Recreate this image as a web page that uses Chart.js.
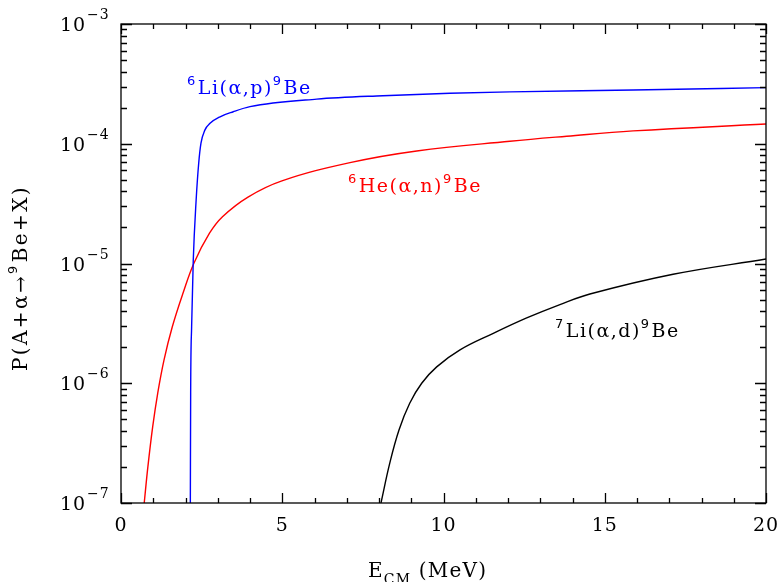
<!DOCTYPE html>
<html>
<head>
    <meta charset="utf-8">
    <title>P(A+α→9Be+X)</title>
    <script src="https://cdn.jsdelivr.net/npm/chart.js@4.4.0/dist/chart.umd.min.js"></script>
    <style>
        html, body { margin: 0; padding: 0; background: #fff; }
        #wrap { width: 780px; height: 582px; }
    </style>
</head>
<body>
    <div id="wrap"><canvas id="prob-chart" width="780" height="582"></canvas></div>
    <script>
        // 6Li(a,p)9Be
        var liPEnergy = [2.15, 2.16, 2.19, 2.24, 2.33, 2.41, 2.48, 2.60, 2.76, 3.07, 3.48, 4.0, 6.07, 8.12, 10.2, 12.06, 15.88, 20];
        var liPProb = [1e-7, 8.3e-7, 2.96e-6, 1.05e-5, 3.39e-5, 6.9e-5, 1.01e-4, 1.30e-4, 1.48e-4, 1.68e-4, 1.85e-4, 2.04e-4, 2.36e-4, 2.52e-4, 2.64e-4, 2.71e-4, 2.81e-4, 2.94e-4];

        // 6He(a,n)9Be
        var heNEnergy = [0.72, 0.834, 0.983, 1.138, 1.333, 1.591, 1.922, 2.264, 2.744, 3.147, 3.938, 4.99, 7.10, 9.17, 12.06, 13.82, 15.88, 20];
        var heNProb = [1e-7, 2.01e-7, 4.34e-7, 8.24e-7, 1.56e-6, 2.96e-6, 5.64e-6, 1.01e-5, 1.79e-5, 2.46e-5, 3.59e-5, 4.9e-5, 6.95e-5, 8.7e-5, 1.05e-4, 1.156e-4, 1.28e-4, 1.46e-4];

        // 7Li(a,d)9Be
        var liDEnergy = [8.062, 8.332, 8.620, 8.952, 9.324, 9.789, 10.512, 11.544, 12.58, 13.61, 14.54, 17.12, 20];
        var liDProb = [1e-7, 2.14e-7, 4.07e-7, 6.81e-7, 1.0e-6, 1.37e-6, 1.90e-6, 2.61e-6, 3.51e-6, 4.54e-6, 5.56e-6, 8.13e-6, 1.09e-5];

        // axis labels
        var xTickLabels = [0, 5, 10, 15, 20];
        var yExponents = [-7, -6, -5, -4, -3];

        var SERIF = '"DejaVu Serif", "Liberation Serif", serif';
        var SANS = '"DejaVu Sans", sans-serif';

        function toPoints(xs, ys) {
            var pts = [];
            for (var i = 0; i < xs.length; i++) pts.push({ x: xs[i], y: ys[i] });
            return pts;
        }

        function partFont(p, size) {
            if (p.sup) return Math.round(size * 0.66) + 'px ' + SANS;
            if (p.sub) return Math.round(size * 0.68) + 'px ' + SERIF;
            return size + 'px ' + SERIF;
        }

        // draws a run of pieces, some raised as superscripts or lowered as subscripts
        function drawRich(ctx, x, y, parts, color, size, spacing) {
            ctx.fillStyle = color;
            ctx.textBaseline = 'alphabetic';
            ctx.textAlign = 'left';
            ctx.letterSpacing = (spacing || 0) + 'px';
            var cx = x;
            parts.forEach(function (p) {
                var dy = p.sup ? -size * 0.5 : (p.sub ? size * 0.35 : 0);
                ctx.font = partFont(p, size);
                ctx.fillText(p.t, cx, y + dy);
                cx += ctx.measureText(p.t).width + (p.sup ? 1 : 0);
            });
            ctx.letterSpacing = '0px';
            return cx - x;
        }

        function richWidth(ctx, parts, size, spacing) {
            var w = 0;
            ctx.letterSpacing = (spacing || 0) + 'px';
            parts.forEach(function (p) {
                ctx.font = partFont(p, size);
                w += ctx.measureText(p.t).width + (p.sup ? 1 : 0);
            });
            ctx.letterSpacing = '0px';
            return w;
        }

        var framePlugin = {
            id: 'frame',
            afterDraw: function (chart) {
                var ctx = chart.ctx;
                var a = chart.chartArea;
                var xs = chart.scales.x;
                var ys = chart.scales.y;
                ctx.save();
                ctx.strokeStyle = '#000';
                ctx.lineWidth = 1.3;
                ctx.strokeRect(a.left, a.top, a.right - a.left, a.bottom - a.top);

                // x ticks, inward on bottom and top
                ctx.beginPath();
                for (var v = 0; v <= 20; v++) {
                    var px = Math.round(xs.getPixelForValue(v)) + 0.5;
                    var len = (v % 5 === 0) ? 10 : 5;
                    ctx.moveTo(px, a.bottom); ctx.lineTo(px, a.bottom - len);
                    ctx.moveTo(px, a.top); ctx.lineTo(px, a.top + len);
                }
                // y ticks, decades long and 2..9 short, on left and right
                for (var e = -7; e <= -3; e++) {
                    for (var m = 1; m <= 9; m++) {
                        if (e === -3 && m > 1) break;
                        var py = Math.round(ys.getPixelForValue(m * Math.pow(10, e))) + 0.5;
                        var l = (m === 1) ? 11 : 6;
                        ctx.moveTo(a.left, py); ctx.lineTo(a.left + l, py);
                        ctx.moveTo(a.right, py); ctx.lineTo(a.right - l, py);
                    }
                }
                ctx.stroke();

                // x tick labels
                ctx.fillStyle = '#000';
                ctx.font = '19px ' + SERIF;
                ctx.textAlign = 'center';
                ctx.textBaseline = 'alphabetic';
                ctx.letterSpacing = '1px';
                xTickLabels.forEach(function (t) {
                    ctx.fillText(String(t), xs.getPixelForValue(t), 531);
                });

                // y tick labels: 10 with a raised exponent
                yExponents.forEach(function (e) {
                    var py = ys.getPixelForValue(Math.pow(10, e));
                    ctx.font = '19px ' + SERIF;
                    ctx.textAlign = 'left';
                    ctx.fillText('10', 60, py + 7);
                    ctx.font = '14px ' + SERIF;
                    ctx.fillText('\u2212' + Math.abs(e), 87, py - 5);
                });
                ctx.letterSpacing = '0px';

                // curve labels
                var lbl = 19;
                drawRich(ctx, 187, 94, [{ t: '6', sup: true }, { t: 'Li(\u03b1,p)' }, { t: '9', sup: true }, { t: 'Be' }], '#0000ff', lbl, 1.5);
                drawRich(ctx, 348, 192, [{ t: '6', sup: true }, { t: 'He(\u03b1,n)' }, { t: '9', sup: true }, { t: 'Be' }], '#ff0000', lbl, 1.5);
                drawRich(ctx, 555, 337, [{ t: '7', sup: true }, { t: 'Li(\u03b1,d)' }, { t: '9', sup: true }, { t: 'Be' }], '#000000', lbl, 1.5);

                // x axis title
                var xt = [{ t: 'E' }, { t: 'CM', sub: true }, { t: ' (MeV)' }];
                drawRich(ctx, 368, 577, xt, '#000', 20, 1.2);

                // y axis title, rotated
                var yt = [{ t: 'P(A+\u03b1\u2192' }, { t: '9', sup: true }, { t: 'Be+X)' }];
                var w = richWidth(ctx, yt, 20, 2.4);
                ctx.save();
                ctx.translate(27, 278);
                ctx.rotate(-Math.PI / 2);
                drawRich(ctx, -w / 2, 0, yt, '#000', 20, 2.4);
                ctx.restore();

                ctx.restore();
            }
        };

        var probChart = new Chart(document.getElementById('prob-chart'), {
            type: 'line',
            data: {
                datasets: [
                    { label: '6Li(a,p)9Be', data: toPoints(liPEnergy, liPProb), borderColor: '#0000ff', cubicInterpolationMode: 'monotone' },
                    { label: '6He(a,n)9Be', data: toPoints(heNEnergy, heNProb), borderColor: '#ff0000', tension: 0.4 },
                    { label: '7Li(a,d)9Be', data: toPoints(liDEnergy, liDProb), borderColor: '#000000', tension: 0.4 }
                ]
            },
            options: {
                responsive: false,
                animation: false,
                layout: { padding: { left: 121, top: 24, right: 14, bottom: 79 } },
                elements: {
                    point: { radius: 0 },
                    line: { borderWidth: 1.4, fill: false }
                },
                scales: {
                    x: { type: 'linear', min: 0, max: 20, display: false },
                    y: { type: 'logarithmic', min: 1e-7, max: 1e-3, display: false }
                },
                plugins: {
                    legend: { display: false },
                    tooltip: { enabled: false }
                }
            },
            plugins: [framePlugin]
        });
    </script>
</body>
</html>
